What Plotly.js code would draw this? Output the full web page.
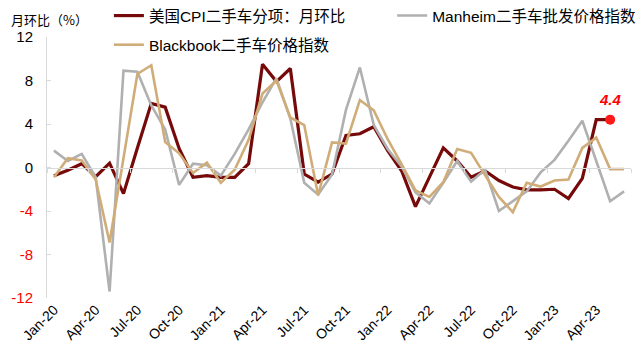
<!DOCTYPE html>
<html><head><meta charset="utf-8">
<script src="https://cdn.plot.ly/plotly-3.0.1.min.js"></script>
<style>html,body{margin:0;padding:0;background:#fff}#chart{width:640px;height:360px}</style>
</head><body><div id="chart"></div>
<script>
const months = ['Jan-20','Feb-20','Mar-20','Apr-20','May-20','Jun-20','Jul-20','Aug-20','Sep-20','Oct-20','Nov-20','Dec-20',
  'Jan-21','Feb-21','Mar-21','Apr-21','May-21','Jun-21','Jul-21','Aug-21','Sep-21','Oct-21','Nov-21','Dec-21',
  'Jan-22','Feb-22','Mar-22','Apr-22','May-22','Jun-22','Jul-22','Aug-22','Sep-22','Oct-22','Nov-22','Dec-22',
  'Jan-23','Feb-23','Mar-23','Apr-23','May-23','Jun-23'];
const tickLabels = ['Jan-20','Apr-20','Jul-20','Oct-20','Jan-21','Apr-21','Jul-21','Oct-21','Jan-22','Apr-22','Jul-22','Oct-22','Jan-23','Apr-23'];
const cpi = [-0.75,-0.25,0.35,-0.85,0.4,-2.4,1.8,5.9,5.55,1.75,-0.9,-0.75,
  -0.9,-0.9,0.35,9.5,7.9,9.1,-0.6,-1.35,-0.6,2.95,3.1,3.75,
  1.55,-0.3,-3.6,-0.9,1.8,0.6,-0.9,-0.3,-1.2,-1.8,-2.05,-2.05,
  -2.0,-2.85,-1.0,4.4,4.4,null];
const manheim = [1.55,0.6,1.25,-0.9,-11.4,8.9,8.8,5.7,3.5,-1.6,0.35,0.2,
  -0.75,1.25,3.5,6.0,8.2,4.5,-1.4,-2.5,-0.65,5.3,9.2,3.9,
  1.7,0.1,-2.3,-3.3,-1.4,0.6,-1.3,-0.2,-4.0,-3.1,-2.2,-0.45,
  0.7,2.45,4.3,0.6,-3.1,-2.2];
const blackbook = [-0.9,0.85,0.65,-1.1,-6.9,0.7,8.6,9.4,2.35,1.3,-0.5,0.45,
  -1.4,-0.2,2.55,6.8,8.0,4.6,3.9,-2.55,2.3,2.2,6.2,5.25,
  2.6,0.3,-2.1,-2.7,-1.35,1.7,1.35,-0.7,-2.7,-4.1,-1.4,-1.75,
  -1.2,-1.1,1.8,2.75,-0.15,-0.15];
const yTicks = [-12,-8,-4,0,4,8,12];
const seriesNames = ['美国CPI二手车分项：月环比','Manheim二手车批发价格指数','Blackbook二手车价格指数'];
const yTitle = '月环比（%）';

const FONT = '"Liberation Sans", Arial, "Noto Sans CJK SC", sans-serif';
const idx = months.map((_, i) => i);
let last = cpi.length - 1; while (cpi[last] == null) last--;
const boundaries = Array.from({length: Math.floor(months.length / 3) + 1}, (_, k) => -0.5 + 3 * k);

const traces = [
  {type:'scatter', mode:'lines', name:seriesNames[0], x:months, y:cpi,
   line:{color:'#760a0a', width:3.2}, legend:'legend', legendgroup:'a', legendrank:1, hoverinfo:'skip'},
  {type:'scatter', mode:'lines', name:seriesNames[1], x:months, y:manheim,
   line:{color:'#b0b0b0', width:2.6}, legend:'legend2', legendgroup:'b', hoverinfo:'skip'},
  {type:'scatter', mode:'lines', name:seriesNames[2], x:months, y:blackbook,
   line:{color:'#d0ad78', width:2.6}, legend:'legend', legendgroup:'c', legendrank:2, hoverinfo:'skip'},
  {type:'scatter', mode:'markers', x:[months[last]], y:[cpi[last]], marker:{color:'#ff1a1a', size:10},
   showlegend:false, hoverinfo:'skip'},
  {type:'scatter', mode:'lines', x:idx, y:idx.map(() => null), xaxis:'x2', showlegend:false, hoverinfo:'skip'}
];

const layout = {
  width:640, height:360,
  margin:{l:47, r:9, t:37, b:62, autoexpand:false},
  paper_bgcolor:'#ffffff', plot_bgcolor:'#ffffff',
  font:{family:FONT, size:14, color:'#000000'},
  showlegend:true,
  xaxis:{type:'category', range:[-0.5, 41.5], tickmode:'array', tickvals:tickLabels, ticktext:tickLabels,
    tickangle:-45, ticks:'', showline:false, showgrid:false, zeroline:false,
    tickfont:{size:14, color:'#000'}, fixedrange:true, automargin:false},
  xaxis2:{overlaying:'x', anchor:'free', position:0.5, type:'linear', range:[-0.5, 41.5],
    tickmode:'array', tickvals:boundaries, showticklabels:false, ticks:'outside', ticklen:4,
    tickcolor:'#d9d9d9', showline:true, linecolor:'#d9d9d9', linewidth:1, showgrid:false, zeroline:false},
  yaxis:{range:[-12, 12], tickmode:'array', tickvals:yTicks,
    ticktext:yTicks.map(v => v < 0 ? '<span style="color:#ff0000">' + v + '</span>' : String(v)),
    ticks:'inside', ticklen:4, tickcolor:'#d9d9d9', showline:true, linecolor:'#d9d9d9', linewidth:1,
    showgrid:false, zeroline:false, tickfont:{size:15, color:'#000'}, ticklabelstandoff:10, automargin:false},
  legend:{x:0.106, xanchor:'left', y:1.1456, yanchor:'top', orientation:'v', traceorder:'grouped',
    tracegroupgap:6, font:{size:15.5, color:'#000'}, bgcolor:'rgba(0,0,0,0)'},
  legend2:{x:0.591, xanchor:'left', y:1.1456, yanchor:'top', orientation:'v',
    font:{size:15.5, color:'#000'}, bgcolor:'rgba(0,0,0,0)'},
  annotations:[
    {text:yTitle, xref:'paper', yref:'paper', x:-0.065, xanchor:'left', y:1.067, yanchor:'middle',
     showarrow:false, font:{size:13, color:'#000', family:'"Noto Sans CJK SC", sans-serif'}},
    {text:'<b><i>' + cpi[last].toFixed(1) + '</i></b>', xref:'x', yref:'y', x:months[last], y:cpi[last],
     yshift:20, showarrow:false, font:{size:15, color:'#ff0000'}}
  ]
};

Plotly.newPlot('chart', traces, layout, {displayModeBar:false, staticPlot:true});
</script>
</body></html>
